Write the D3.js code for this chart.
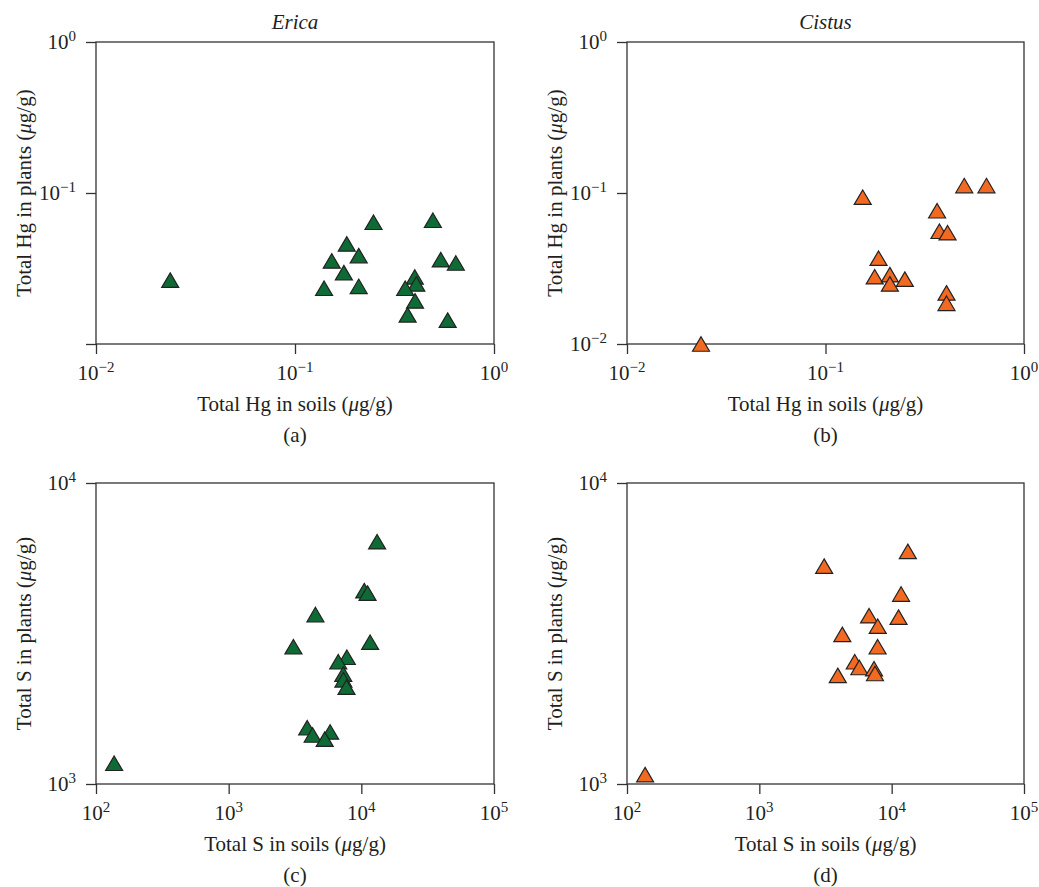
<!DOCTYPE html>
<html>
<head>
<meta charset="utf-8">
<script src="https://cdn.jsdelivr.net/npm/d3@7"></script>
<style>
  body { margin: 0; background: #fff; }
  svg text { font-family: "Liberation Serif", "DejaVu Serif", serif; fill: #231f20; }
</style>
</head>
<body>
<svg width="1039" height="887"></svg>
<script>
var svg = d3.select("svg");

// panel (a): Erica, Hg
var ericaHgSoil  = [0.0236, 0.248, 0.493, 0.182, 0.209, 0.153, 0.540, 0.643, 0.176, 0.400, 0.407, 0.140, 0.209, 0.358, 0.401, 0.368, 0.585];
var ericaHgPlant = [0.0265, 0.064, 0.066, 0.046, 0.0385, 0.0355, 0.0362, 0.0344, 0.0297, 0.0278, 0.0250, 0.0234, 0.0241, 0.0234, 0.0193, 0.0156, 0.0144];

// panel (b): Cistus, Hg
var cistusHgSoil  = [0.0236, 0.154, 0.50, 0.647, 0.365, 0.375, 0.412, 0.185, 0.177, 0.211, 0.211, 0.251, 0.407, 0.407];
var cistusHgPlant = [0.0100, 0.0938, 0.112, 0.112, 0.0763, 0.0558, 0.0546, 0.037, 0.0279, 0.0288, 0.0250, 0.0269, 0.0218, 0.0186];

// panel (c): Erica, S
var ericaSSoil  = [137, 13150, 10520, 11140, 4508, 3076, 11650, 7780, 6700, 7310, 7330, 7730, 3908, 4297, 5820, 5297];
var ericaSPlant = [1172, 6383, 4389, 4307, 3656, 2858, 2959, 2637, 2548, 2317, 2219, 2099, 1538, 1455, 1489, 1410];

// panel (d): Cistus, S
var cistusSSoil  = [137, 13250, 3090, 11780, 6750, 11270, 7850, 4237, 7830, 5260, 5700, 7360, 7480, 3917];
var cistusSPlant = [1074, 5927, 5296, 4277, 3623, 3583, 3344, 3141, 2858, 2548, 2438, 2416, 2329, 2296];

// axis ticks
var hgTicks = [0.01, 0.1, 1];
var sSoilTicks = [100, 1000, 10000, 100000];
var sPlantTicks = [1000, 10000];
var hgPlantLabelsA = [0.1, 1];   // panel (a) leaves the bottom tick unlabelled

var green = "#0e6b35", orange = "#f26a21";

var panels = [
  { sx: ericaHgSoil, sy: ericaHgPlant, color: green, title: "Erica", tag: "(a)",
    xDomain: [0.01, 1], yDomain: [0.01, 1], xTicks: hgTicks, yTicks: hgTicks, yLabels: hgPlantLabelsA,
    xTitle: "Total Hg in soils", yTitle: "Total Hg in plants", left: 96, right: 494, top: 42, bottom: 344 },
  { sx: cistusHgSoil, sy: cistusHgPlant, color: orange, title: "Cistus", tag: "(b)",
    xDomain: [0.01, 1], yDomain: [0.01, 1], xTicks: hgTicks, yTicks: hgTicks, yLabels: hgTicks,
    xTitle: "Total Hg in soils", yTitle: "Total Hg in plants", left: 627, right: 1024, top: 42, bottom: 344 },
  { sx: ericaSSoil, sy: ericaSPlant, color: green, title: null, tag: "(c)",
    xDomain: [100, 100000], yDomain: [1000, 10000], xTicks: sSoilTicks, yTicks: sPlantTicks, yLabels: sPlantTicks,
    xTitle: "Total S in soils", yTitle: "Total S in plants", left: 96, right: 494, top: 483, bottom: 784 },
  { sx: cistusSSoil, sy: cistusSPlant, color: orange, title: null, tag: "(d)",
    xDomain: [100, 100000], yDomain: [1000, 10000], xTicks: sSoilTicks, yTicks: sPlantTicks, yLabels: sPlantTicks,
    xTitle: "Total S in soils", yTitle: "Total S in plants", left: 627, right: 1024, top: 483, bottom: 784 }
];

// "10" with superscript exponent
function powLabel(sel, v) {
  var e = Math.round(Math.log10(v));
  sel.text("10");
  sel.append("tspan").attr("dy", -8).attr("font-size", 15)
    .text(e < 0 ? "\u2212" + (-e) : String(e));
}

// title with italic micro sign in units
function unitsTitle(sel, label) {
  sel.text(label + " (");
  sel.append("tspan").attr("font-style", "italic").text("\u03bc");
  sel.append("tspan").text("g/g)");
}

var triW = 17, triH = 14.5;
var tri = "M0," + (-triH / 2) + "L" + (triW / 2) + "," + (triH / 2) + "L" + (-triW / 2) + "," + (triH / 2) + "Z";

panels.forEach(function (p) {
  var x = d3.scaleLog().domain(p.xDomain).range([p.left, p.right]);
  var y = d3.scaleLog().domain(p.yDomain).range([p.bottom, p.top]);
  var cx = (p.left + p.right) / 2, cy = (p.top + p.bottom) / 2;
  var g = svg.append("g");

  // tick marks (outward), labels drawn separately
  var xAxis = g.append("g").attr("transform", "translate(0," + p.bottom + ")")
    .call(d3.axisBottom(x).tickValues(p.xTicks).tickSize(10).tickFormat(""));
  var yAxis = g.append("g").attr("transform", "translate(" + p.left + ",0)")
    .call(d3.axisLeft(y).tickValues(p.yTicks).tickSize(10).tickFormat(""));
  [xAxis, yAxis].forEach(function (a) {
    a.select(".domain").remove();
    a.selectAll("line").attr("stroke", "#333").attr("stroke-width", 1.3);
  });

  // frame
  g.append("rect")
    .attr("x", p.left).attr("y", p.top)
    .attr("width", p.right - p.left).attr("height", p.bottom - p.top)
    .attr("fill", "none").attr("stroke", "#333").attr("stroke-width", 1.3);

  g.selectAll(".xl").data(p.xTicks).enter().append("text")
    .attr("x", function (d) { return x(d); })
    .attr("y", p.bottom + 36)
    .attr("text-anchor", "middle").attr("font-size", 21)
    .each(function (d) { powLabel(d3.select(this), d); });

  g.selectAll(".yl").data(p.yLabels).enter().append("text")
    .attr("x", p.left - 20)
    .attr("y", function (d) { return y(d) + 7; })
    .attr("text-anchor", "end").attr("font-size", 21)
    .each(function (d) { powLabel(d3.select(this), d); });

  g.append("text").attr("x", cx).attr("y", p.bottom + 67)
    .attr("text-anchor", "middle").attr("font-size", 21)
    .call(unitsTitle, p.xTitle);

  g.append("text")
    .attr("transform", "translate(" + (p.left - 65) + "," + cy + ") rotate(-90)")
    .attr("text-anchor", "middle").attr("font-size", 21)
    .call(unitsTitle, p.yTitle);

  g.append("text").attr("x", cx).attr("y", p.bottom + 98)
    .attr("text-anchor", "middle").attr("font-size", 21).text(p.tag);

  if (p.title) {
    g.append("text").attr("x", cx).attr("y", 29)
      .attr("text-anchor", "middle").attr("font-size", 21)
      .attr("font-style", "italic").text(p.title);
  }

  // points
  g.selectAll(".pt").data(d3.range(p.sx.length)).enter().append("path")
    .attr("d", tri)
    .attr("transform", function (i) { return "translate(" + x(p.sx[i]) + "," + y(p.sy[i]) + ")"; })
    .attr("fill", p.color).attr("stroke", "#222").attr("stroke-width", 1.2)
    .attr("stroke-linejoin", "miter");
});
</script>
</body>
</html>
